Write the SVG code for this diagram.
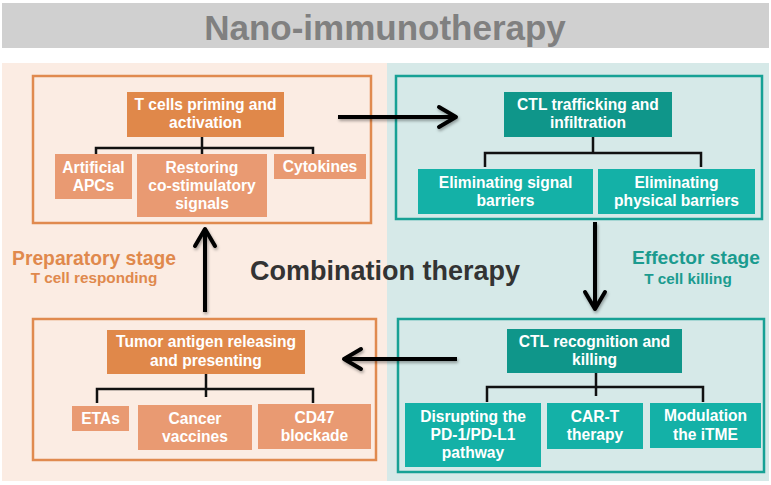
<svg xmlns="http://www.w3.org/2000/svg" width="771" height="485" viewBox="0 0 771 485">
<style>
text{font-family:"Liberation Sans",Arial,sans-serif;font-weight:bold;text-anchor:middle}
.bt{fill:#ffffff;font-size:15.6px}
.oh{fill:#e0884a}
.oc{fill:#e99a72}
.th{fill:#0f968a}
.tc{fill:#14b1a7}
.ob{fill:none;stroke:#e08a4f;stroke-width:2.5}
.tb{fill:none;stroke:#17a195;stroke-width:2.5}
.tree{fill:none;stroke:#111111;stroke-width:2.5}
.arr{fill:none;stroke:#000000;stroke-width:4;marker-end:url(#ah)}
</style>
<defs>
<marker id="ah" markerUnits="userSpaceOnUse" viewBox="-24 -14 28 28" markerWidth="28" markerHeight="28" refX="0" refY="0" orient="auto">
<path d="M-17,-10 L0,0 L-17,10" fill="none" stroke="#000" stroke-width="4" stroke-linejoin="round" stroke-linecap="round"/>
</marker>
<filter id="sh" x="-20%" y="-20%" width="140%" height="140%">
<feDropShadow dx="1" dy="2" stdDeviation="1.5" flood-color="#000" flood-opacity="0.35"/>
</filter>
</defs>
<rect x="0" y="0" width="771" height="485" fill="#ffffff"/>
<g id="title">
<rect x="2" y="3" width="767" height="45" fill="#d0d0d0"/>
<text x="385" y="40" font-size="35" fill="#808080">Nano-immunotherapy</text>
</g>
<g id="panels">
<rect x="2" y="63" width="385" height="418" fill="#fbece3"/>
<rect x="387" y="63" width="382" height="418" fill="#d6e9e8"/>
</g>
<g id="labels">
<text x="94" y="265" font-size="19.3" fill="#e0894d">Preparatory stage</text>
<text x="94" y="283" font-size="15.3" fill="#e0894d">T cell responding</text>
<text x="696" y="264" font-size="19.2" fill="#1b9b8f">Effector stage</text>
<text x="688" y="284" font-size="15.3" fill="#1b9b8f">T cell killing</text>
<text x="385" y="280" font-size="27" fill="#333333">Combination therapy</text>
</g>
<g id="priming">
<rect class="ob" x="33" y="76" width="338" height="147"/>
<rect class="oh" x="127" y="92" width="157" height="45"/>
<text class="bt" x="205.5" y="110">T cells priming and</text>
<text class="bt" x="205.5" y="128">activation</text>
</g>
<g id="artificial-apcs">
<rect class="oc" x="55" y="154" width="77" height="45"/>
<text class="bt" x="93.5" y="173">Artificial</text>
<text class="bt" x="93.5" y="191">APCs</text>
</g>
<g id="restoring">
<rect class="oc" x="137" y="154" width="130" height="63"/>
<text class="bt" x="202" y="173">Restoring</text>
<text class="bt" x="202" y="191">co-stimulatory</text>
<text class="bt" x="202" y="209">signals</text>
</g>
<g id="cytokines">
<rect class="oc" x="274" y="154" width="92" height="25"/>
<text class="bt" x="320" y="172">Cytokines</text>
</g>
<g id="trafficking">
<rect class="tb" x="396" y="76" width="366" height="143"/>
<rect class="th" x="504" y="92" width="168" height="45"/>
<text class="bt" x="588" y="110">CTL trafficking and</text>
<text class="bt" x="588" y="128">infiltration</text>
</g>
<g id="signal-barriers">
<rect class="tc" x="418" y="169" width="175" height="45"/>
<text class="bt" x="505.5" y="188">Eliminating signal</text>
<text class="bt" x="505.5" y="206">barriers</text>
</g>
<g id="physical-barriers">
<rect class="tc" x="598" y="169" width="157" height="45"/>
<text class="bt" x="676.5" y="188">Eliminating</text>
<text class="bt" x="676.5" y="206">physical barriers</text>
</g>
<g id="antigen">
<rect class="ob" x="33" y="319" width="343" height="141"/>
<rect class="oh" x="107" y="330" width="198" height="44"/>
<text class="bt" x="206" y="347">Tumor antigen releasing</text>
<text class="bt" x="206" y="366">and presenting</text>
</g>
<g id="etas">
<rect class="oc" x="72" y="406" width="57" height="25"/>
<text class="bt" x="100.5" y="424">ETAs</text>
</g>
<g id="cancer-vaccines">
<rect class="oc" x="138" y="405" width="114" height="45"/>
<text class="bt" x="195" y="424">Cancer</text>
<text class="bt" x="195" y="442">vaccines</text>
</g>
<g id="cd47">
<rect class="oc" x="258" y="404" width="113" height="45"/>
<text class="bt" x="314.5" y="423">CD47</text>
<text class="bt" x="314.5" y="441">blockade</text>
</g>
<g id="recognition">
<rect class="tb" x="398" y="319" width="366" height="153"/>
<rect class="th" x="507" y="329" width="175" height="44"/>
<text class="bt" x="594.5" y="347">CTL recognition and</text>
<text class="bt" x="594.5" y="365">killing</text>
</g>
<g id="disrupting">
<rect class="tc" x="405" y="403" width="136" height="64"/>
<text class="bt" x="473" y="422">Disrupting the</text>
<text class="bt" x="473" y="440">PD-1/PD-L1</text>
<text class="bt" x="473" y="458">pathway</text>
</g>
<g id="car-t">
<rect class="tc" x="547" y="403" width="96" height="46"/>
<text class="bt" x="595" y="422">CAR-T</text>
<text class="bt" x="595" y="440">therapy</text>
</g>
<g id="modulation">
<rect class="tc" x="650" y="403" width="111" height="45"/>
<text class="bt" x="705.5" y="421">Modulation</text>
<text class="bt" x="705.5" y="440">the iTME</text>
</g>
<g id="connectors">
<path class="tree" d="M202,137 V154 M96,154 V148 H313 V154"/>
<path class="tree" d="M593,137 V153 M485,167 V153 H701 V167"/>
<path class="tree" d="M206,374 V397 M97,403 V389 H313 V403"/>
<path class="tree" d="M596,373 V396 M487,402 V387 H703 V402"/>
<g filter="url(#sh)">
<path class="arr" d="M338,117 H456"/>
<path class="arr" d="M595,222 V309"/>
<path class="arr" d="M457,359 H344"/>
<path class="arr" d="M205,312 V229"/>
</g>
</g>
</svg>
